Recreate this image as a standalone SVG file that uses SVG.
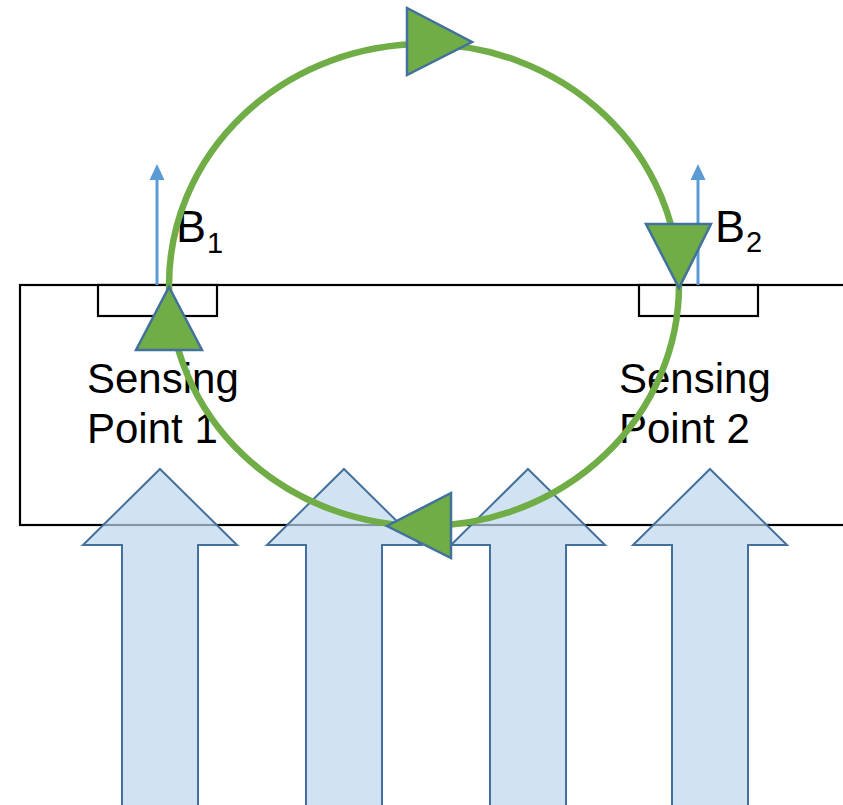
<svg xmlns="http://www.w3.org/2000/svg" xmlns:xlink="http://www.w3.org/1999/xlink" width="843" height="805" viewBox="0 0 843 805">
  <style>
    .frame { fill: #ffffff; stroke: #000000; stroke-width: 2.2; }
    .sensor { fill: #ffffff; stroke: #000000; stroke-width: 2.2; }
    .flow { fill: #bdd7ee; fill-opacity: 0.7; stroke: #41719c; stroke-width: 2; stroke-linejoin: miter; }
    .field { stroke: #5b9bd5; stroke-width: 3; fill: none; }
    .loop { fill: none; stroke: #70ad47; stroke-width: 6.5; }
    .dir { fill: #70ad47; stroke: #41719c; stroke-width: 2.5; stroke-linejoin: miter; }
    .lbl { font-family: "Liberation Sans", Arial, sans-serif; font-size: 42px; fill: #000000; }
    .big { font-family: "Liberation Sans", Arial, sans-serif; font-size: 45px; fill: #000000; }
    .sub { font-family: "Liberation Sans", Arial, sans-serif; font-size: 29px; fill: #000000; }
  </style>
  <defs>
    <polygon id="blockArrow" points="0,469 77,545 38,545 38,806 -38,806 -38,545 -77,545"/>
  </defs>

  <!-- sensor body -->
  <g id="body">
    <rect class="frame" x="20" y="285" width="830" height="240"/>
  </g>

  <!-- sensing points -->
  <g id="sensor1">
    <rect class="sensor" x="98" y="285" width="119" height="31"/>
    <text class="lbl" x="87" y="393">Sensing</text>
    <text class="lbl" x="87" y="443">Point 1</text>
  </g>
  <g id="sensor2">
    <rect class="sensor" x="639" y="285" width="119" height="31"/>
    <text class="lbl" x="619" y="393">Sensing</text>
    <text class="lbl" x="619" y="443">Point 2</text>
  </g>

  <!-- incoming flow arrows -->
  <g id="flow1"><use href="#blockArrow" class="flow" x="160"/></g>
  <g id="flow2"><use href="#blockArrow" class="flow" x="344"/></g>
  <g id="flow3"><use href="#blockArrow" class="flow" x="528"/></g>
  <g id="flow4"><use href="#blockArrow" class="flow" x="710"/></g>

  <!-- field vectors -->
  <g id="field1">
    <line x1="157" y1="285" x2="157" y2="179" class="field"/>
    <polygon points="157,164 164.5,180 149.5,180" fill="#5b9bd5"/>
    <text class="big" x="176" y="242">B</text>
    <text class="sub" x="207" y="253">1</text>
  </g>
  <g id="field2">
    <line x1="698" y1="285" x2="698" y2="179" class="field"/>
    <polygon points="698,164 705.5,180 690.5,180" fill="#5b9bd5"/>
    <text class="big" x="715" y="242">B</text>
    <text class="sub" x="746" y="252">2</text>
  </g>

  <!-- circulation loop with direction markers -->
  <g id="connectors">
    <ellipse class="loop" cx="424" cy="285" rx="255" ry="241"/>
    <polygon class="dir" points="407,8 407,75 472,42"/>
    <polygon class="dir" points="646,224 711,224 679,288"/>
    <polygon class="dir" points="451,493 451,558 387,526"/>
    <polygon class="dir" points="169,287 202,350 136,350"/>
  </g>
</svg>
